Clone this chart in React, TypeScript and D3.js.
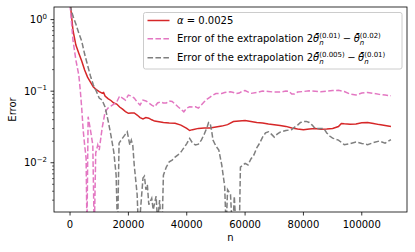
import * as d3 from 'd3';

// alpha = 0.0025 run
const alphaSeries: [number, number][] = [
  [0, 1.8], [1000, 0.713], [2000, 0.44], [3000, 0.34], [4000, 0.263], [5000, 0.197],
  [6000, 0.157], [7000, 0.134], [8000, 0.114], [9000, 0.105], [10000, 0.0987],
  [11000, 0.094], [11500, 0.096], [12000, 0.0855], [13000, 0.0788], [14000, 0.0741],
  [15000, 0.0682], [16000, 0.066], [17000, 0.06], [18000, 0.056], [19000, 0.0519],
  [20000, 0.049], [21000, 0.0496], [22000, 0.0496], [23000, 0.0464], [24000, 0.0427],
  [25000, 0.0409], [26000, 0.0427], [27000, 0.042], [28000, 0.0398], [29000, 0.0382],
  [30000, 0.0376], [32000, 0.0365], [34000, 0.0359], [36000, 0.0355], [38000, 0.0336],
  [40000, 0.0302], [41000, 0.0282], [42000, 0.029], [44000, 0.0302], [46000, 0.0305],
  [48000, 0.0305], [50000, 0.0315], [52000, 0.0325], [54000, 0.0341], [56000, 0.0376],
  [58000, 0.0382], [60000, 0.0388], [62000, 0.0376], [64000, 0.0365], [66000, 0.0359],
  [68000, 0.0348], [70000, 0.034], [72000, 0.0332], [74000, 0.0322], [76000, 0.0305],
  [78000, 0.0296], [80000, 0.029], [82000, 0.0296], [84000, 0.03], [86000, 0.0293],
  [88000, 0.0296], [90000, 0.0302], [92000, 0.032], [93000, 0.0354], [94000, 0.035],
  [96000, 0.0344], [98000, 0.0348], [100000, 0.0361], [102000, 0.0365], [104000, 0.0354],
  [106000, 0.0341], [108000, 0.0332], [110000, 0.0321],
];

// extrapolation 2θ(0.01) − θ(0.02)
const extrap1Series: [number, number][] = [
  [0, 1.6], [1000, 0.517], [2000, 0.272], [3000, 0.168], [3500, 0.104], [4000, 0.058],
  [4500, 0.0286], [5000, 0.0177], [5500, 0.0116], [5800, 0.0012], [6200, 0.044],
  [7000, 0.0286], [7800, 0.0177], [8300, 0.001], [8800, 0.0137], [9500, 0.0177],
  [10000, 0.015], [11000, 0.0305], [12000, 0.051], [13000, 0.058], [14000, 0.062],
  [15000, 0.066], [16000, 0.0705], [17000, 0.0855], [18000, 0.08], [19000, 0.0751],
  [20000, 0.0882], [21000, 0.0855], [22000, 0.08], [23000, 0.0705], [24000, 0.064],
  [25000, 0.0751], [26000, 0.073], [27000, 0.0684], [28000, 0.064], [29000, 0.0606],
  [30000, 0.0684], [31000, 0.071], [32000, 0.0684], [33000, 0.0684], [34000, 0.073],
  [35000, 0.072], [36000, 0.066], [37000, 0.0606], [38000, 0.056], [39000, 0.0515],
  [40000, 0.058], [41000, 0.0606], [42000, 0.06], [43000, 0.0606], [44000, 0.058],
  [45000, 0.064], [46000, 0.071], [47000, 0.0776], [48000, 0.0827], [49000, 0.0882],
  [50000, 0.0926], [52000, 0.0931], [53000, 0.0958], [54000, 0.0971], [55000, 0.0979],
  [56000, 0.0958], [57000, 0.0926], [58000, 0.094], [59000, 0.1003], [60000, 0.102],
  [62000, 0.0931], [64000, 0.0958], [66000, 0.1003], [68000, 0.099], [70000, 0.0971],
  [72000, 0.0971], [74000, 0.1003], [75000, 0.0998], [76000, 0.0911], [77000, 0.0911],
  [78000, 0.0971], [80000, 0.099], [82000, 0.101], [84000, 0.0995], [86000, 0.0979],
  [88000, 0.1003], [90000, 0.102], [92000, 0.1028], [94000, 0.099], [96000, 0.0911],
  [98000, 0.0882], [100000, 0.094], [102000, 0.0958], [104000, 0.0931], [106000, 0.0902],
  [108000, 0.0882], [110000, 0.0865],
];

// extrapolation 2θ(0.005) − θ(0.01)
const extrap2Series: [number, number][] = [
  [0, 1.6], [1000, 1.12], [2000, 0.865], [3000, 0.647], [4000, 0.5], [5000, 0.33],
  [6000, 0.231], [7000, 0.163], [8000, 0.122], [9000, 0.1], [10000, 0.08], [11000, 0.075],
  [12000, 0.06], [13000, 0.0395], [14000, 0.0244], [15000, 0.0141], [15800, 0.0067],
  [16300, 0.001], [16800, 0.0188], [18000, 0.0221], [19000, 0.0251], [19600, 0.027],
  [20500, 0.0177], [21000, 0.0207], [21500, 0.0177], [22000, 0.0093], [23000, 0.0036],
  [23500, 0.001], [25000, 0.0061], [25500, 0.0065], [26000, 0.0042], [26500, 0.0049],
  [27000, 0.0026], [28000, 0.0032], [28500, 0.0022], [29500, 0.0034], [30000, 0.0015],
  [30700, 0.003], [31500, 0.001], [32000, 0.0067], [33000, 0.0087], [34000, 0.0103],
  [35000, 0.0109], [36000, 0.012], [37000, 0.0129], [38000, 0.0141], [39000, 0.0161],
  [40000, 0.0185], [41000, 0.0219], [42000, 0.0188], [43000, 0.0177], [44000, 0.0182],
  [45000, 0.0207], [46000, 0.0251], [47000, 0.0315], [47500, 0.0365], [48000, 0.036],
  [48500, 0.0286], [49000, 0.0207], [50000, 0.0171], [51000, 0.015], [52000, 0.0093],
  [53000, 0.0047], [53500, 0.0012], [54000, 0.0042], [55000, 0.0036], [55700, 0.001],
  [56300, 0.0034], [57000, 0.001], [58000, 0.001], [58400, 0.0087], [60000, 0.0098],
  [61000, 0.0093], [62000, 0.0113], [63000, 0.0128], [64000, 0.0161], [65000, 0.0188],
  [66000, 0.0228], [67000, 0.0261], [68000, 0.0271], [69000, 0.0251], [70000, 0.0228],
  [71000, 0.0251], [72000, 0.0268], [74000, 0.0282], [76000, 0.029], [77000, 0.0315],
  [78000, 0.0336], [79000, 0.0365], [80000, 0.0376], [81000, 0.0378], [82000, 0.0365],
  [83000, 0.0336], [84000, 0.03], [85000, 0.0302], [86000, 0.0302], [87000, 0.03],
  [88000, 0.0261], [89000, 0.0236], [90000, 0.0221], [92000, 0.0207], [94000, 0.0179],
  [96000, 0.0185], [98000, 0.0195], [100000, 0.0186], [102000, 0.0179], [104000, 0.0191],
  [106000, 0.0201], [108000, 0.0188], [110000, 0.0211],
];

const xTicks = [0, 20000, 40000, 60000, 80000, 100000];
const yMajorExponents = [0, -1, -2];

const FONT = 'DejaVu Sans';
const W = 415;
const H = 252;
const plot = { left: 54, right: 407, top: 7, bottom: 212 };

export default function App() {
  const x = d3.scaleLinear().domain([-5500, 115500]).range([plot.left, plot.right]);
  const y = d3.scaleLog().domain([0.00205, 1.5]).range([plot.bottom, plot.top]);

  const line = d3
    .line<[number, number]>()
    .x((d) => x(d[0]))
    .y((d) => y(d[1]));

  const minorTicks: number[] = [];
  for (const e of [-3, -2, -1, 0]) {
    for (let m = 2; m <= 9; m++) {
      const v = m * Math.pow(10, e);
      if (v >= y.domain()[0] && v <= y.domain()[1]) minorTicks.push(v);
    }
  }

  const supW = (s: string) => {
    // DejaVu Sans advance widths at 7px
    let w = 0;
    for (const c of s) w += c === '(' || c === ')' ? 0.39 : c === '.' ? 0.318 : 0.636;
    return w * 7;
  };
  const nW = 0.634 * 7;

  const mathLabel = (a: string, b: string) => (
    <>
      Error of the extrapolation 2<tspan fontStyle="italic">θ̄</tspan>
      <tspan fontSize={7} dy={-4.2}>{a}</tspan>
      <tspan fontSize={7} fontStyle="italic" dx={-supW(a)} dy={6.7}>n</tspan>
      <tspan dx={supW(a) - nW + 2.5} dy={-2.5}>−</tspan>
      <tspan fontStyle="italic" dx={2.5}>θ̄</tspan>
      <tspan fontSize={7} dy={-4.2}>{b}</tspan>
      <tspan fontSize={7} fontStyle="italic" dx={-supW(b)} dy={6.7}>n</tspan>
    </>
  );

  const legendRows = [
    { color: '#d62728', dash: undefined, label: <><tspan fontStyle="italic">α</tspan> = 0.0025</> },
    { color: '#e377c2', dash: '5.55,2.4', label: mathLabel('(0.01)', '(0.02)') },
    { color: '#7f7f7f', dash: '5.55,2.4', label: mathLabel('(0.005)', '(0.01)') },
  ];
  const rowY = [20.5, 38.8, 57.8];

  return (
    <svg
      width={W}
      height={H}
      style={{ position: 'absolute', left: 0, top: 0, background: '#fff' }}
      fontFamily={FONT}
    >
      <defs>
        <clipPath id="plot-clip">
          <rect x={plot.left} y={plot.top} width={plot.right - plot.left} height={plot.bottom - plot.top} />
        </clipPath>
      </defs>

      <g clipPath="url(#plot-clip)" fill="none" strokeWidth={1.5}>
        <path d={line(alphaSeries) ?? ''} stroke="#d62728" />
        <path d={line(extrap1Series) ?? ''} stroke="#e377c2" strokeDasharray="5.55,2.4" />
        <path d={line(extrap2Series) ?? ''} stroke="#7f7f7f" strokeDasharray="5.55,2.4" />
      </g>

      {/* axes frame */}
      <rect
        x={plot.left}
        y={plot.top}
        width={plot.right - plot.left}
        height={plot.bottom - plot.top}
        fill="none"
        stroke="#000"
        strokeWidth={0.8}
      />

      {/* x ticks */}
      {xTicks.map((t) => (
        <g key={t}>
          <line x1={x(t)} x2={x(t)} y1={plot.bottom} y2={plot.bottom + 3.5} stroke="#000" strokeWidth={0.8} />
          <text x={x(t)} y={228} fontSize={10} textAnchor="middle">{t}</text>
        </g>
      ))}
      <text x={(plot.left + plot.right) / 2} y={241} fontSize={10} textAnchor="middle">n</text>

      {/* y ticks */}
      {minorTicks.map((t) => (
        <line key={t} x1={plot.left - 2} x2={plot.left} y1={y(t)} y2={y(t)} stroke="#000" strokeWidth={0.6} />
      ))}
      {yMajorExponents.map((e) => (
        <g key={e}>
          <line x1={plot.left - 3.5} x2={plot.left} y1={y(Math.pow(10, e))} y2={y(Math.pow(10, e))} stroke="#000" strokeWidth={0.8} />
          <text x={plot.left - 7} y={y(Math.pow(10, e)) + 3.6} fontSize={10} textAnchor="end">
            10<tspan fontSize={7} dy={-4.5}>{e < 0 ? `−${-e}` : `${e}`}</tspan>
          </text>
        </g>
      ))}
      <text
        transform={`translate(15.5,${(plot.top + plot.bottom) / 2}) rotate(-90)`}
        fontSize={10}
        textAnchor="middle"
      >
        Error
      </text>

      {/* legend */}
      <rect x={143.5} y={12.5} width={258.5} height={56.5} rx={2} fill="#fff" fillOpacity={0.8} stroke="#cccccc" strokeWidth={1} />
      {legendRows.map((r, i) => (
        <g key={i}>
          <line x1={147.5} x2={169.5} y1={rowY[i]} y2={rowY[i]} stroke={r.color} strokeWidth={1.5} strokeDasharray={r.dash} />
          <text x={177} y={rowY[i] + 3.6} fontSize={10}>{r.label}</text>
        </g>
      ))}
    </svg>
  );
}
